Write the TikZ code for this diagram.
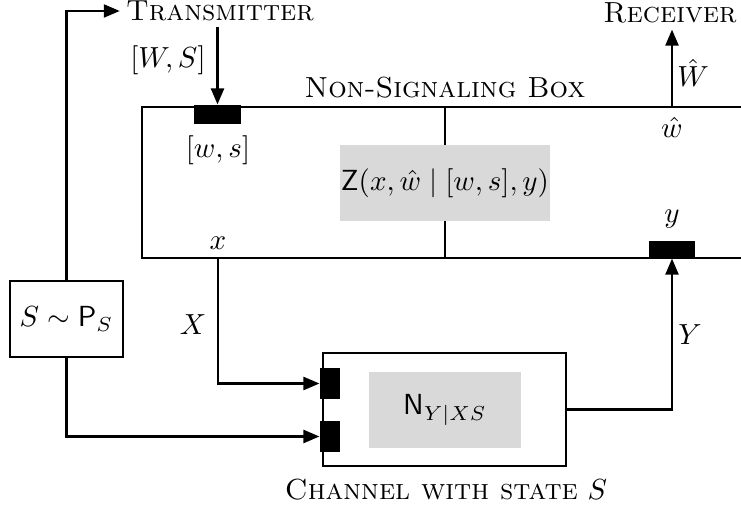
\documentclass[tikz,border=0pt]{standalone}
\usepackage{amssymb}
\usepackage{xcolor}
\usepackage{tikz}
\usetikzlibrary{arrows.meta,positioning,calc}
\definecolor{boxgray}{HTML}{D9D9D9}
\tikzset{
  wire/.style={line width=0.7pt,draw=black},
  feed/.style={-{Triangle[length=5.5pt,width=4.5pt]},line width=0.7pt,draw=black},
  port/.style={rectangle,fill=black,inner sep=0pt},
  frame/.style={rectangle,draw=black,line width=0.7pt,inner sep=0pt},
  core/.style={rectangle,fill=boxgray,inner sep=0pt},
  title/.style={font=\normalsize,inner sep=2pt},
}
\begin{document}
\begin{tikzpicture}[x=0.0121cm,y=-0.0121cm,
  lbl/.style={inner sep=1pt}]
  \useasboundingbox (0,0) rectangle (741,508);
  % non-signaling box (runs off the right edge)
  \draw[wire] (745,107) -- (142,107) -- (142,258) -- (745,258);
  \draw[wire] (445,107) -- (445,258);
  \node[core,minimum width=2.54cm,minimum height=0.92cm] (zbox) at (445,183) {$\mathsf{Z}(x,\hat{w}\mid[w,s],y)$};
  \node[title] (nslabel) at (445,88) {\textsc{Non-Signaling Box}};
  \node[port,minimum width=0.557cm,minimum height=0.23cm] (tport) at (217.5,114.5) {};
  \node[port,minimum width=0.557cm,minimum height=0.206cm] (yport) at (672,249.5) {};
  \coordinate (what) at (672,107);
  \coordinate (xout) at (218,258);
  % channel
  \node[frame,minimum width=2.94cm,minimum height=1.367cm] (chan) at (444.5,409.5) {};
  \node[core,minimum width=1.84cm,minimum height=0.92cm] (nbox) at (445,410) {$\mathsf{N}_{Y|XS}$};
  \node[port,minimum width=0.242cm,minimum height=0.375cm] (xport) at (330,383.5) {};
  \node[port,minimum width=0.242cm,minimum height=0.375cm] (sport) at (330,436.5) {};
  \node[title] (chlabel) at (446,490) {\textsc{Channel with state} $S$};
  % state source
  \node[frame,minimum width=1.37cm,minimum height=0.92cm] (src) at (66.5,319) {$S\sim\mathsf{P}_S$};
  % ends
  \node[title] (tx) at (220,11) {\textsc{Transmitter}};
  \node[title] (rx) at (670,13) {\textsc{Receiver}};
  % connectors
  \draw[feed] (src.north) -- (src.north |- tx) -- (tx.west);
  \draw[feed] (tx.south -| tport) -- (tport.north);
  \draw[feed] (what) -- (what |- rx.south);
  \draw[feed] (xout) |- (xport.west);
  \draw[feed] (src.south) |- (sport.west);
  \draw[feed] (chan.east) -| (yport.south);
  % labels
  \node[lbl] at (168,60) {$[W,S]$};
  \node[lbl] at (218,150) {$[w,s]$};
  \node[lbl] at (218,243) {$x$};
  \node[lbl] at (193,325) {$X$};
  \node[lbl] at (690,335) {$Y$};
  \node[lbl] at (693,73) {$\hat{W}$};
  \node[lbl] at (672,127) {$\hat{w}$};
  \node[lbl] at (672,219) {$y$};
\end{tikzpicture}
\end{document}
